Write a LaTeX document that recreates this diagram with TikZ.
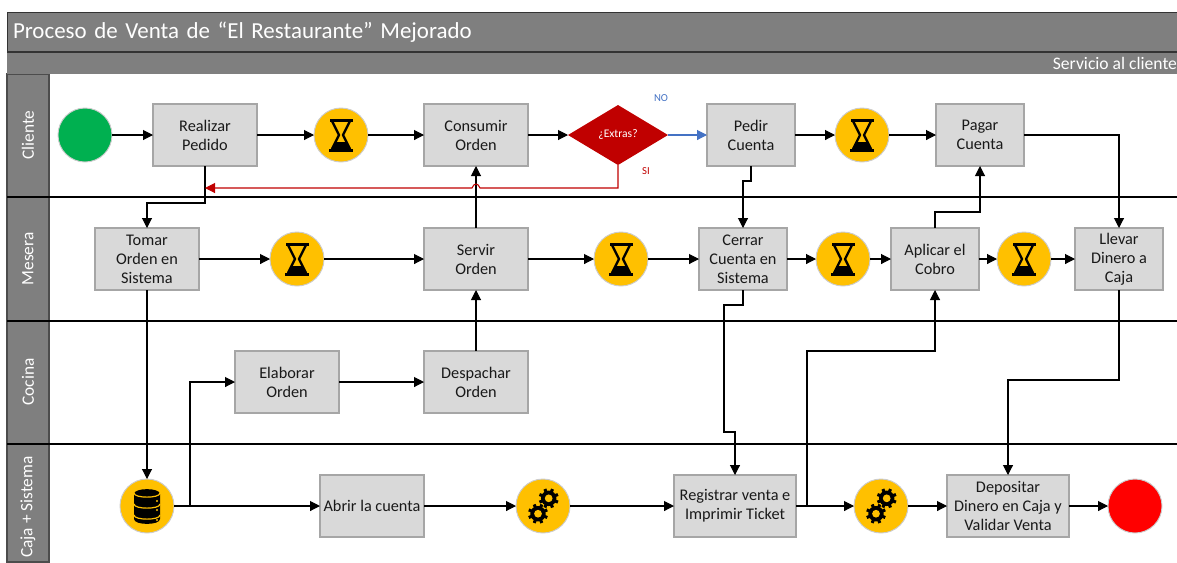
\documentclass[tikz,border=0pt]{standalone}
\usepackage{fontspec}
\setmainfont{Carlito}
\usetikzlibrary{
positioning,%
shapes.geometric,%
arrows.meta
}
\definecolor{lanegray}{HTML}{7F7F7F}
\definecolor{taskgray}{HTML}{D9D9D9}
\definecolor{taskedge}{HTML}{A6A6A6}
\definecolor{iconamber}{HTML}{FFC000}
\definecolor{startgreen}{HTML}{00B050}
\definecolor{sired}{HTML}{C00000}
\definecolor{noblue}{HTML}{4472C4}
\newcommand{\hourglassicon}{%
    \fill (-11.5,-16.5) rectangle (11.5,-13.5);
    \fill (-12,13.5) rectangle (12,16.5);
    \draw[line width=1.7pt, miter limit=1] (-9,-14) -- (-2,0) -- (-9,14);
    \draw[line width=1.7pt, miter limit=1] (9,-14) -- (2,0) -- (9,14);
    \fill (-5.5,7) -- (5.5,7) -- (10,14) -- (-10,14) -- cycle;
}
\newcommand{\databaseicon}{%
    \fill (-13,-12) -- (-13,13) .. controls (-13,19.5) and (13,19.5) .. (13,13)
        -- (13,-12) .. controls (13,-18.5) and (-13,-18.5) .. (-13,-12);
    \foreach \y in {-13,-2,9} {
        \draw[iconamber, line width=0.9pt] (-13,\y) .. controls (-13,\y+5.5) and (13,\y+5.5) .. (13,\y);
    }
    \foreach \y in {-5,4,14} {
        \fill[iconamber] (10,\y) circle (0.8pt);
    }
}
\newcommand{\gearicon}[2]{%
    \foreach \a in {0,45,...,315} {
        \draw[line width=2.3pt] ($(#1,#2)+(\a+22.5:6)$) -- ($(#1,#2)+(\a+22.5:10)$);
    }
    \fill (#1,#2) circle (5.8pt);
    \fill[iconamber] (#1,#2) circle (2.9pt);
}
\usetikzlibrary{calc}
\tikzset{
    every node/.style={outer sep=0pt},
    body/.style={font=\fontsize{12.2}{14.25}\selectfont, align=center, text=black!90},
    task/.style={body, draw=taskedge, fill=taskgray, line width=0.9pt, minimum height=46.5pt, inner sep=0pt},
    taskw/.style={task, minimum width=78pt},
    taskn/.style={task, minimum width=66pt},
    taskx/.style={task, minimum width=91.5pt},
    evt/.style={circle, draw=black!20, line width=0.7pt, minimum size=40.5pt, inner sep=0pt},
    icon/.style={evt, fill=iconamber, path picture={
        \begin{scope}[shift={(path picture bounding box.center)}, fill=black, draw=black]
            #1
        \end{scope}}},
    wait/.style={icon=\hourglassicon},
    dbase/.style={icon=\databaseicon},
    gears/.style={icon={\gearicon{5.7}{-7.7}\gearicon{-5}{7.7}}},
    lanelabel/.style={rotate=90, text=white, font=\fontsize{13}{15}\selectfont},
    lanesep/.style={line width=0.8pt},
    flow/.style={-{Triangle[length=7.5pt,width=7.5pt]}, line width=0.8pt},
    flowsi/.style={flow, draw=sired},
    flowno/.style={flow, draw=noblue}
}
\begin{document}
\begin{tikzpicture}[x=0.75pt, y=-0.75pt]
    \useasboundingbox (0,0) rectangle (1177,562);
    % ----
    \path[fill=lanegray, draw=black!70, line width=0.9pt] (7,74) rectangle (49,562);
    \node[anchor=north west, text width=868.5pt, align=left, minimum height=30pt, inner sep=4.5pt,
        draw=black!80, fill=lanegray, text=white, font=\fontsize{17.2}{20}\selectfont] (titulo) at (7,12)
        {Proceso de Venta de “El Restaurante” Mejorado};
    \fill[lanegray] (7,52) rectangle (1177,74);
    \draw[black!80, line width=0.9pt] (7,52) -- (1177,52);
    \node[anchor=east, text=white, font=\fontsize{13.2}{15}\selectfont, inner sep=0pt] (servicio) at (1177,63) {Servicio al cliente};
    \node[lanelabel] (lcliente) at (28,135) {Cliente};
    \node[lanelabel] (lmesera) at (28,259) {Mesera};
    \node[lanelabel] (lcocina) at (28,382) {Cocina};
    \node[lanelabel] (lcaja) at (28,507) {Caja + Sistema};
    \foreach \y in {197,321,444} {
        \draw[lanesep] (7,\y) -- (1177,\y);
    }
    % ----
    \node[evt, fill=startgreen] (inicio) at (85,135) {};
    \node[taskw, right=30.75pt of inicio] (realizar) {Realizar\\Pedido};
    \node[wait, right=42.75pt of realizar] (esperaA) {};
    \node[taskw, right=42pt of esperaA] (consumir) {Consumir\\Orden};
    \node[diamond, fill=sired, text=white, inner sep=0pt, minimum width=75pt, minimum height=45pt,
        aspect=1.667, font=\fontsize{8.7}{10}\selectfont, right=30pt of consumir] (extras) {¿Extras?};
    \node[taskn, right=29.25pt of extras] (pedir) {Pedir\\Cuenta};
    \node[wait, right=30pt of pedir] (esperaB) {};
    \node[taskn, right=35.25pt of esperaB] (pagar) {Pagar\\Cuenta};
    \node[text=noblue, font=\fontsize{8}{9}\selectfont] (no) at (661,98) {NO};
    \node[text=sired, font=\fontsize{8}{9}\selectfont] (si) at (646,171) {SI};
    % ----
    \node[taskw, below=46.5pt of consumir] (servir) {Servir\\Orden};
    \node[wait, left=75pt of servir] (esperaC) {};
    \node[taskw, left=53.25pt of esperaC] (tomar) {Tomar\\Orden en\\Sistema};
    \node[wait, right=49.5pt of servir] (esperaD) {};
    \node[taskn, right=38.25pt of esperaD] (cerrar) {Cerrar\\Cuenta en\\Sistema};
    \node[wait, right=21.75pt of cerrar] (esperaE) {};
    \node[taskn, right=15.75pt of esperaE] (aplicar) {Aplicar el\\Cobro};
    \node[wait, right=13.5pt of aplicar] (esperaF) {};
    \node[taskn, right=18pt of esperaF] (llevar) {Llevar\\Dinero a\\Caja};
    % ----
    \node[taskw, below=45.75pt of servir] (despachar) {Despachar\\Orden};
    \node[taskw, left=63.75pt of despachar] (elaborar) {Elaborar\\Orden};
    % ----
    \node[dbase, below=141.75pt of tomar] (base) {};
    \node[taskw, right=109.5pt of base] (abrir) {Abrir la cuenta};
    \node[gears, right=69pt of abrir] (procA) {};
    \node[taskx, right=78pt of procA] (registrar) {Registrar venta e\\Imprimir Ticket};
    \node[gears, right=43.5pt of registrar] (procB) {};
    \node[taskx, right=29.25pt of procB] (depositar) {Depositar\\Dinero en Caja y\\Validar Venta};
    \node[evt, fill=red, right=29.25pt of depositar] (fin) {};
    % ----
    \coordinate (ramaA) at (base.east -| 190,0);
    \coordinate (ramaB) at (registrar.east -| 807,0);
    \coordinate (siesq) at (extras.south |- 0,188);
    \coordinate (saltoD) at (consumir.south |- 0,188);
    \coordinate (sifin) at (realizar.south |- 0,188);
    % ----
    \draw[flow] (inicio) -- (realizar);
    \draw[flow] (realizar) -- (esperaA);
    \draw[flow] (esperaA) -- (consumir);
    \draw[flow] (consumir) -- (extras);
    \draw[flowno] (extras) -- (pedir);
    \draw[flow] (pedir) -- (esperaB);
    \draw[flow] (esperaB) -- (pagar);
    \draw[flow] (pagar.east) -| (llevar.north);
    \draw[flow] (realizar.south) -- ++(0,37) -| (tomar.north);
    \draw[flow] (pedir.south) -- ++(0,15) -| (cerrar.north);
    \draw[flow] (aplicar.north) -- ++(0,-16) -| (pagar.south);
    \draw[flow] (servir) -- (consumir);
    \draw[flow] (tomar) -- (esperaC);
    \draw[flow] (esperaC) -- (servir);
    \draw[flow] (servir) -- (esperaD);
    \draw[flow] (esperaD) -- (cerrar);
    \draw[flow] (cerrar) -- (esperaE);
    \draw[flow] (esperaE) -- (aplicar);
    \draw[flow] (aplicar) -- (esperaF);
    \draw[flow] (esperaF) -- (llevar);
    \draw[flow] (despachar) -- (servir);
    \draw[flow] (elaborar) -- (despachar);
    \draw[flow] (tomar) -- (base);
    \draw[flow] (base) -- (abrir);
    \draw[flow] (ramaA) |- (elaborar.west);
    \draw[flow] (abrir) -- (procA);
    \draw[flow] (procA) -- (registrar);
    \draw[flow] (registrar) -- (procB);
    \draw[flow] (ramaB) -- ++(0,-155) -| (aplicar.south);
    \draw[flow] (procB) -- (depositar);
    \draw[flow] (depositar) -- (fin);
    \draw[flow] (cerrar.south) -- ++(0,15) -| ++(-19,127) -| (registrar.north);
    \draw[flow] (llevar.south) -- ++(0,90) -| (depositar.north);
    % ----
    \draw[flowsi] (extras.south) -- (siesq) -- ([xshift=3pt]saltoD)
        .. controls ([xshift=1.5pt,yshift=4pt]saltoD) and ([xshift=-1.5pt,yshift=4pt]saltoD) .. ([xshift=-3pt]saltoD)
        -- (sifin);
\end{tikzpicture}
\end{document}
